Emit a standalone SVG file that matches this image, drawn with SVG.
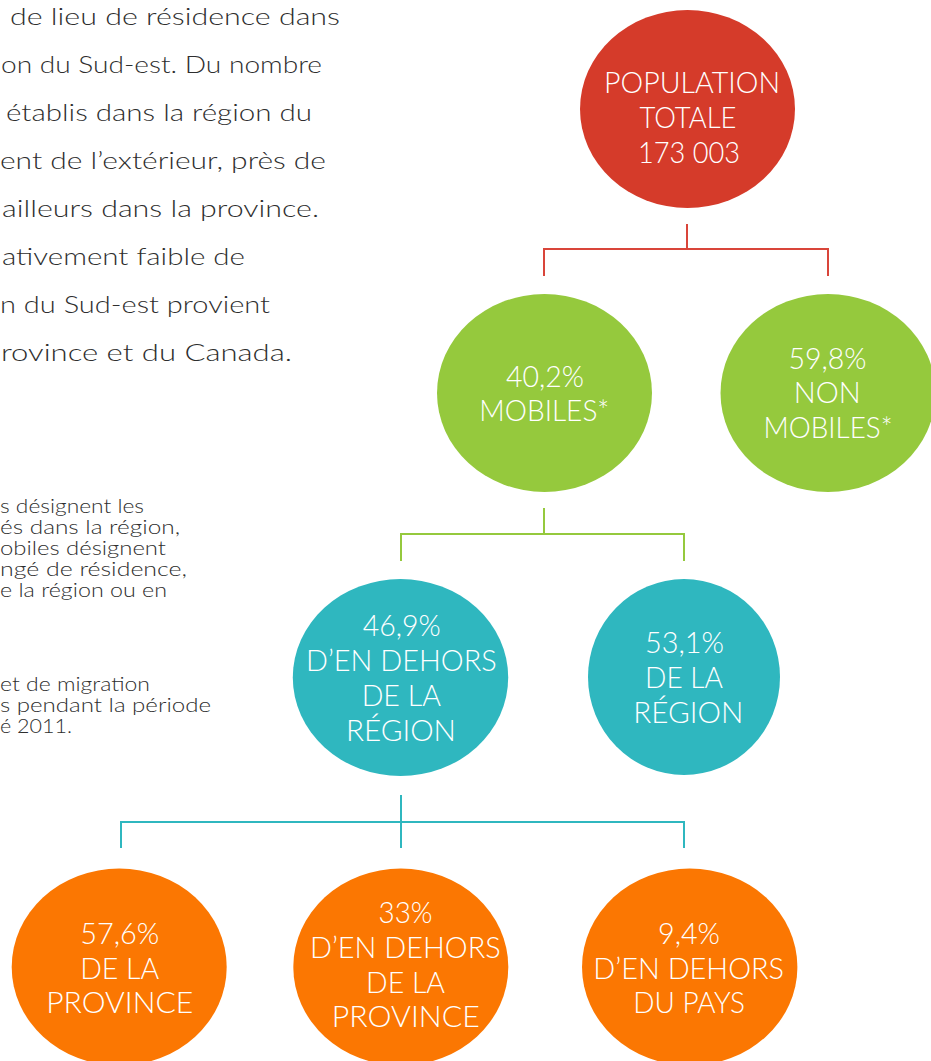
<svg xmlns="http://www.w3.org/2000/svg" width="931" height="1061" viewBox="0 0 931 1061">
<style>
.bg{fill:#ffffff}
.para{font-family:Lato,"Noto Sans","Liberation Sans",sans-serif;font-size:24px;font-weight:300;fill:#2e2e2e}
.note{font-family:Lato,"Noto Sans","Liberation Sans",sans-serif;font-size:19.5px;font-weight:300;fill:#2e2e2e}
.lbl{font-family:Lato,"Noto Sans","Liberation Sans",sans-serif;font-size:29px;font-weight:300;fill:#ffffff;text-anchor:middle}
.red{fill:#D53B2A}
.green{fill:#95C93D}
.teal{fill:#2FB7BF}
.orange{fill:#FB7702}
.conn{fill:none;stroke-width:2}
</style>
<rect class="bg" x="0" y="0" width="931" height="1061"/>
<g id="paragraph">
<text class="para" x="10" y="25" textLength="330" lengthAdjust="spacingAndGlyphs">de lieu de résidence dans</text>
<text class="para" x="1" y="73" textLength="321" lengthAdjust="spacingAndGlyphs">on du Sud-est. Du nombre</text>
<text class="para" x="6" y="121" textLength="306" lengthAdjust="spacingAndGlyphs">établis dans la région du</text>
<text class="para" x="0" y="169" textLength="326" lengthAdjust="spacingAndGlyphs">ent de l’extérieur, près de</text>
<text class="para" x="2" y="217" textLength="317" lengthAdjust="spacingAndGlyphs">ailleurs dans la province.</text>
<text class="para" x="2" y="265" textLength="243" lengthAdjust="spacingAndGlyphs">ativement faible de</text>
<text class="para" x="0" y="313" textLength="270" lengthAdjust="spacingAndGlyphs">n du Sud-est provient</text>
<text class="para" x="1" y="361" textLength="291" lengthAdjust="spacingAndGlyphs">rovince et du Canada.</text>
</g>
<g id="note">
<text class="note" x="0" y="512.5" textLength="144" lengthAdjust="spacingAndGlyphs">s désignent les</text>
<text class="note" x="0" y="533.5" textLength="180" lengthAdjust="spacingAndGlyphs">és dans la région,</text>
<text class="note" x="0" y="554.5" textLength="166" lengthAdjust="spacingAndGlyphs">obiles désignent</text>
<text class="note" x="0" y="575.5" textLength="187" lengthAdjust="spacingAndGlyphs">ngé de résidence,</text>
<text class="note" x="0" y="596.5" textLength="167" lengthAdjust="spacingAndGlyphs">e la région ou en</text>
<text class="note" x="0" y="691" textLength="150" lengthAdjust="spacingAndGlyphs">et de migration</text>
<text class="note" x="0" y="712" textLength="211" lengthAdjust="spacingAndGlyphs">s pendant la période</text>
<text class="note" x="0" y="733" textLength="72" lengthAdjust="spacingAndGlyphs">é 2011.</text>
</g>
<g id="connectors">
<path class="conn" stroke="#D9453A" d="M687,224 V249 M544,276 V249 H828 V276"/>
<path class="conn" stroke="#95C93D" d="M544,508 V534 M401,561 V534 H684 V561"/>
<path class="conn" stroke="#2FB7BF" d="M401,795 V848 M121,848 V822 H684 V848"/>
</g>
<g id="node-population">
<ellipse class="red" cx="687.5" cy="109" rx="107.5" ry="99"/>
<text class="lbl" x="692" y="93" textLength="176" lengthAdjust="spacingAndGlyphs">POPULATION</text>
<text class="lbl" x="688" y="128" textLength="97" lengthAdjust="spacingAndGlyphs">TOTALE</text>
<text class="lbl" x="689" y="163" textLength="102" lengthAdjust="spacingAndGlyphs">173 003</text>
</g>
<g id="node-mobiles">
<ellipse class="green" cx="544.5" cy="393" rx="107.5" ry="99"/>
<text class="lbl" x="545" y="387" textLength="78" lengthAdjust="spacingAndGlyphs">40,2%</text>
<text class="lbl" x="544.3" y="421" textLength="130" lengthAdjust="spacingAndGlyphs">MOBILES*</text>
</g>
<g id="node-non-mobiles">
<ellipse class="green" cx="828" cy="393" rx="107.5" ry="99"/>
<text class="lbl" x="827.5" y="369" textLength="78" lengthAdjust="spacingAndGlyphs">59,8%</text>
<text class="lbl" x="827.3" y="403" textLength="67" lengthAdjust="spacingAndGlyphs">NON</text>
<text class="lbl" x="828" y="438" textLength="129" lengthAdjust="spacingAndGlyphs">MOBILES*</text>
</g>
<g id="node-hors-region">
<ellipse class="teal" cx="400.5" cy="677.5" rx="107.7" ry="98.5"/>
<text class="lbl" x="401.8" y="636" textLength="78" lengthAdjust="spacingAndGlyphs">46,9%</text>
<text class="lbl" x="401.3" y="670.7" textLength="190.7" lengthAdjust="spacingAndGlyphs">D’EN DEHORS</text>
<text class="lbl" x="401.3" y="705.7" textLength="79.3" lengthAdjust="spacingAndGlyphs">DE LA</text>
<text class="lbl" x="401" y="740.7" textLength="110" lengthAdjust="spacingAndGlyphs">RÉGION</text>
</g>
<g id="node-region">
<ellipse class="teal" cx="684" cy="677" rx="96" ry="98"/>
<text class="lbl" x="684.5" y="653" textLength="79" lengthAdjust="spacingAndGlyphs">53,1%</text>
<text class="lbl" x="684" y="687.7" textLength="78" lengthAdjust="spacingAndGlyphs">DE LA</text>
<text class="lbl" x="688.3" y="723" textLength="110" lengthAdjust="spacingAndGlyphs">RÉGION</text>
</g>
<g id="node-province">
<ellipse class="orange" cx="119.2" cy="967" rx="107.5" ry="98.5"/>
<text class="lbl" x="119.7" y="944" textLength="79" lengthAdjust="spacingAndGlyphs">57,6%</text>
<text class="lbl" x="119.7" y="979" textLength="79" lengthAdjust="spacingAndGlyphs">DE LA</text>
<text class="lbl" x="119.7" y="1013" textLength="147" lengthAdjust="spacingAndGlyphs">PROVINCE</text>
</g>
<g id="node-hors-province">
<ellipse class="orange" cx="400.8" cy="967" rx="107.5" ry="98.5"/>
<text class="lbl" x="405.5" y="923.3" textLength="54" lengthAdjust="spacingAndGlyphs">33%</text>
<text class="lbl" x="405.3" y="958" textLength="190.7" lengthAdjust="spacingAndGlyphs">D’EN DEHORS</text>
<text class="lbl" x="405.5" y="992.7" textLength="79" lengthAdjust="spacingAndGlyphs">DE LA</text>
<text class="lbl" x="405.8" y="1027" textLength="148" lengthAdjust="spacingAndGlyphs">PROVINCE</text>
</g>
<g id="node-hors-pays">
<ellipse class="orange" cx="689.7" cy="967" rx="107.7" ry="98.5"/>
<text class="lbl" x="689" y="944" textLength="62" lengthAdjust="spacingAndGlyphs">9,4%</text>
<text class="lbl" x="688.7" y="979" textLength="190.7" lengthAdjust="spacingAndGlyphs">D’EN DEHORS</text>
<text class="lbl" x="689.2" y="1013" textLength="111.7" lengthAdjust="spacingAndGlyphs">DU PAYS</text>
</g>
</svg>
